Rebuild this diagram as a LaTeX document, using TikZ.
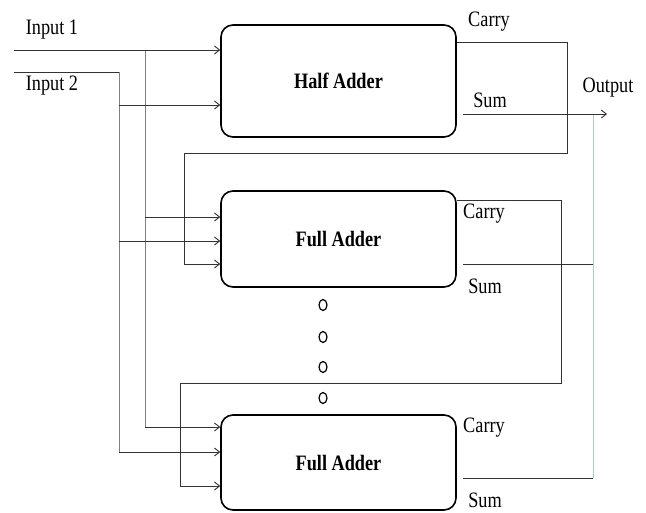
\documentclass[tikz,border=0pt]{standalone}
\usepackage{fontspec}
\setmainfont{Liberation Serif}[FakeStretch=0.83]
\usetikzlibrary{shapes.geometric,arrows.meta}
\definecolor{outblue}{RGB}{178,198,222}
\begin{document}
\begin{tikzpicture}
[
    x=1pt, y=-1pt,
    font=\fontsize{22}{24}\selectfont,
    adder/.style={draw, line width=1.6pt, rounded corners=12pt, minimum width=235pt, font=\fontsize{22}{24}\selectfont\bfseries},
    wire/.style={draw=black!80, line width=0.9pt},
    bus/.style={draw=black!50, line width=0.9pt},
    outbus/.style={draw=outblue, line width=1pt},
    lbl/.style={inner sep=0pt},
    dot/.style={draw, ellipse, line width=1.2pt, minimum width=8pt, minimum height=11pt, inner sep=0pt},
    >={Straight Barb[length=5pt,width=8pt]}
]
    \useasboundingbox (0,0) rectangle (646,512);

    % adders
    \node [adder, minimum height=112pt] (ha) at (338.5,81) {Half Adder};
    \node [adder, minimum height=96pt] (fa1) at (338.5,239) {Full Adder};
    \node [adder, minimum height=95pt] (fa2) at (338.5,462.5) {Full Adder};

    \foreach \i/\y in {1/305, 2/337, 3/367, 4/398}
        \node [dot] (dot\i) at (323,\y) {};

    % junctions and ports
    \coordinate (in1) at (14,50);
    \coordinate (in2) at (14,72);
    \coordinate (j1) at (145,50);
    \coordinate (j2) at (119,72);
    \coordinate (hai2) at ([yshift=-24pt]ha.west);
    \coordinate (fa1i1) at ([yshift=22pt]fa1.west);
    \coordinate (fa1i2) at ([yshift=-2pt]fa1.west);
    \coordinate (fa1i3) at ([yshift=-25pt]fa1.west);
    \coordinate (fa2i1) at ([yshift=35.5pt]fa2.west);
    \coordinate (fa2i2) at ([yshift=10.5pt]fa2.west);
    \coordinate (fa2i3) at ([yshift=-23.5pt]fa2.west);
    \coordinate (hac) at ([yshift=39pt]ha.east);
    \coordinate (has) at ([xshift=6pt,yshift=-33pt]ha.east);
    \coordinate (fa1c) at ([yshift=39pt]fa1.east);
    \coordinate (fa1s) at ([xshift=6pt,yshift=-25pt]fa1.east);
    \coordinate (fa2s) at ([xshift=6pt,yshift=-15.5pt]fa2.east);
    \coordinate (l1) at (567,153);
    \coordinate (r1) at (184,153);
    \coordinate (l2) at (561,383);
    \coordinate (r2) at (180,383);
    \coordinate (ob) at (593,114);
    \coordinate (out) at (607,114);

    % inputs
    \draw [bus] (j1) -- (j1 |- fa2i1);
    \draw [bus] (j2) -- (j2 |- fa2i2);
    \draw [wire, ->] (in1) -- (in1 -| ha.west);
    \draw [wire] (in2) -- (j2);
    \draw [wire, ->] (hai2 -| j2) -- (hai2);
    \draw [wire, ->] (fa1i1 -| j1) -- (fa1i1);
    \draw [wire, ->] (fa1i2 -| j2) -- (fa1i2);
    \draw [wire, ->] (fa2i1 -| j1) -- (fa2i1);
    \draw [wire, ->] (fa2i2 -| j2) -- (fa2i2);

    % carries
    \draw [wire, ->] (hac) -| (l1) -- (r1) |- (fa1i3);
    \draw [wire, ->] (fa1c) -| (l2) -- (r2) |- (fa2i3);

    % sums
    \draw [outbus] (ob) -- (ob |- fa2s);
    \draw [wire, ->] (has) -- (out);
    \draw [wire] (fa1s) -- (fa1s -| ob);
    \draw [wire] (fa2s) -- (fa2s -| ob);

    % labels
    \node [lbl] (lin1) at (52,30) {Input 1};
    \node [lbl] (lin2) at (52,86) {Input 2};
    \node [lbl] (hacl) at (489,22) {Carry};
    \node [lbl] (hasl) at (490,100) {Sum};
    \node [lbl] (outl) at (608,88) {Output};
    \node [lbl] (fa1cl) at (484,214) {Carry};
    \node [lbl] (fa1sl) at (485,286) {Sum};
    \node [lbl] (fa2cl) at (484,428) {Carry};
    \node [lbl] (fa2sl) at (485,500) {Sum};
\end{tikzpicture}
\end{document}
